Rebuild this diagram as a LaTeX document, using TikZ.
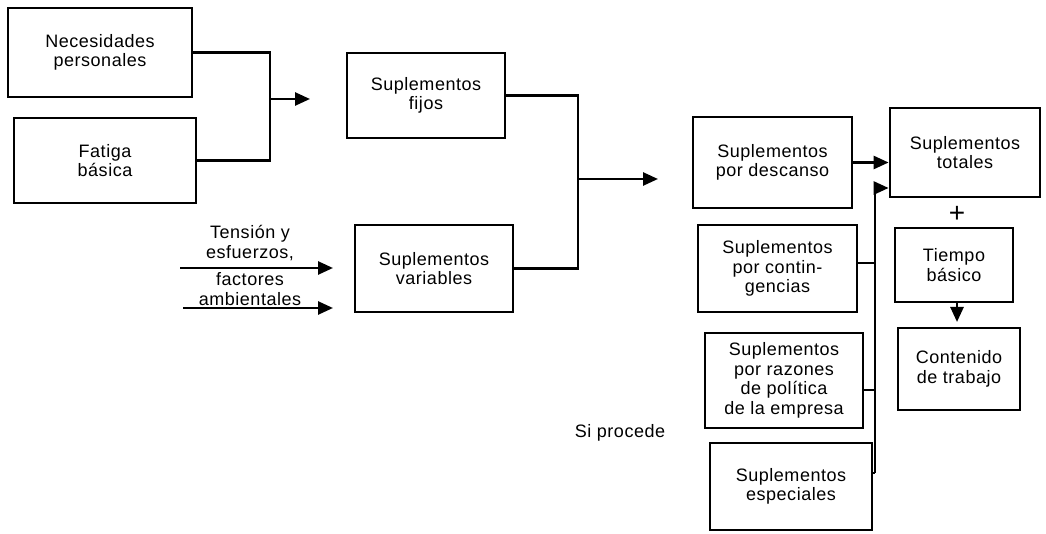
\documentclass[tikz,border=0pt]{standalone}
\usepackage{fontspec}
\setmainfont{Liberation Sans}[LetterSpace=3]
\usetikzlibrary{arrows.meta}
\begin{document}
\begin{tikzpicture}[x=1pt,y=-1pt,
  box/.style={draw, line width=2.8pt, align=center, inner sep=2pt,
    font=\fontsize{18}{19.5}\selectfont},
  wire/.style={line width=2.6pt},
  arr/.style={wire, -{Triangle[length=15pt,width=13pt]}},
  lbl/.style={align=center, inner sep=0pt, font=\fontsize{18}{19.5}\selectfont}]
\useasboundingbox (0,0) rectangle (1046,534);

% left group
\node[box, minimum width=184pt, minimum height=89pt] (np) at (100,52.5) {Necesidades\\personales};
\node[box, minimum width=182pt, minimum height=85pt] (fb) at (105,160.5) {Fatiga\\básica};
\node[box, minimum width=158pt, minimum height=85pt] (sf) at (426,95.5) {Suplementos\\fijos};
\node[box, minimum width=158pt, minimum height=87pt] (sv) at (434,268.5) {Suplementos\\variables};

% right group
\node[box, minimum width=159pt, minimum height=91pt] (sd) at (772.5,162.5) {Suplementos\\por descanso};
\node[box, minimum width=150pt, minimum height=89pt] (st) at (965,152.5) {Suplementos\\totales};
\node[box, minimum width=159pt, minimum height=87pt] (sc) at (777.5,268.5) {Suplementos\\por contin-\\gencias};
\node[box, minimum width=118pt, minimum height=74pt] (tb) at (954,265) {Tiempo\\básico};
\node[box, minimum width=122pt, minimum height=82pt] (ct) at (959,369) {Contenido\\de trabajo};
\node[box, minimum width=158pt, minimum height=95pt] (sr) at (784,380.5) {Suplementos\\por razones\\de política\\de la empresa};
\node[box, minimum width=162pt, minimum height=87pt] (se) at (791,486.5) {Suplementos\\especiales};

% labels
\node[lbl] (ltension) at (250,243) {Tensión y\\esfuerzos,};
\node[lbl] (lfact) at (250,289) {factores\\ambientales};
\node[lbl] (lsi) at (620,433) {Si procede};
\node[inner sep=0pt, font=\fontsize{28}{28}\selectfont] (plus) at (957,214) {+};

% junctions and free ends
\coordinate (j1) at (270,99);
\coordinate (a1) at (310,99);
\coordinate (j2) at (578,179);
\coordinate (a2) at (658,179);
\coordinate (i1s) at (180,268);
\coordinate (i1e) at (333,268);
\coordinate (i2s) at (183,308);
\coordinate (i2e) at (333,308);
\coordinate (bt) at (875,188);
\coordinate (bb) at ([yshift=13.5pt]se.east -| bt);
\coordinate (ta) at (957,322);

% fixed allowances
\draw[wire] (np.east) -| (j1) |- (fb.east);
\draw[arr] (j1) -- (a1);

% fixed + variable
\draw[wire] (sf.east) -| (j2) |- (sv.east);
\draw[arr] (j2) -- (a2);

% inputs to variable allowances
\draw[arr] (i1s) -- (i1e);
\draw[arr] (i2s) -- (i2e);

% towards total allowances
\draw[arr] (sd.east) -- (sd.east -| st.west);
\draw[wire] (bb) -- (bt);
\draw[arr] (bt) -- (bt -| st.west);
\draw[wire] ([yshift=5.5pt]sc.east) -- ([yshift=5.5pt]sc.east -| bt);
\draw[wire] ([yshift=-9.5pt]sr.east) -- ([yshift=-9.5pt]sr.east -| bt);
\draw[wire] ([yshift=13.5pt]se.east) -- (bb);

% basic time to work content
\draw[arr] (tb.south -| ta) -- (ta);
\end{tikzpicture}
\end{document}
